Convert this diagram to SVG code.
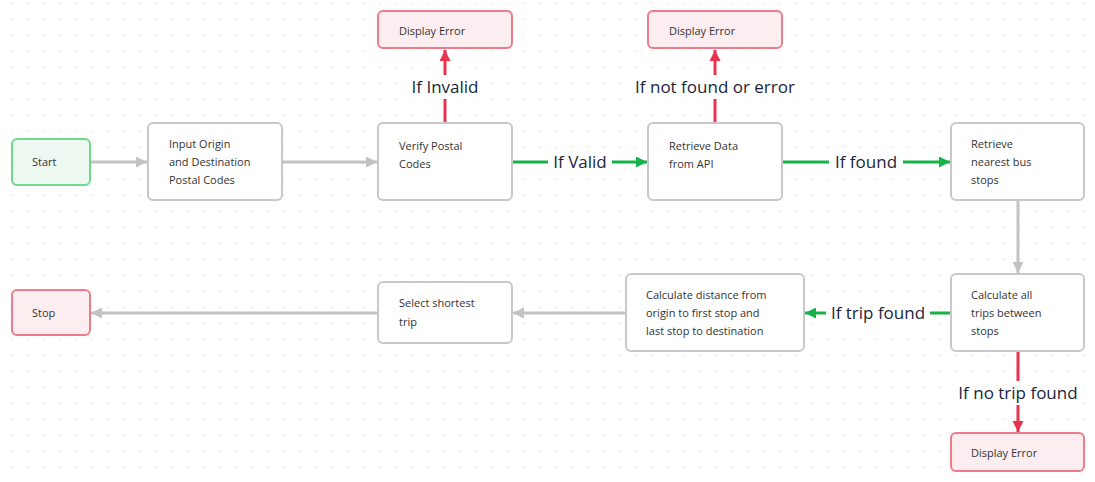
<svg xmlns="http://www.w3.org/2000/svg" width="1095" height="482" viewBox="0 0 1095 482">
<defs>
<pattern id="dots" x="10.5" y="2.5" width="16" height="16" patternUnits="userSpaceOnUse">
<rect x="0" y="0" width="1.3" height="1.3" fill="#d4d4d4"/>
</pattern>
<marker id="ag" viewBox="0 0 10 10" refX="10" refY="5" markerWidth="11" markerHeight="11" markerUnits="userSpaceOnUse" orient="auto"><path d="M0,0 L10,5 L0,10 Z" fill="#c2c2c2"/></marker>
<marker id="agr" viewBox="0 0 10 10" refX="10" refY="5" markerWidth="11" markerHeight="11" markerUnits="userSpaceOnUse" orient="auto"><path d="M0,0 L10,5 L0,10 Z" fill="#15b34a"/></marker>
<marker id="ar" viewBox="0 0 10 10" refX="10" refY="5" markerWidth="11" markerHeight="11" markerUnits="userSpaceOnUse" orient="auto"><path d="M0,0 L10,5 L0,10 Z" fill="#e8334f"/></marker>
<style>
.n rect{fill:#fff;stroke:#c8c8c8;stroke-width:2}
.g rect{fill:#edf8f1;stroke:#6fd88f;stroke-width:2}
.r rect{fill:#fcedf0;stroke:#ee7b8c;stroke-width:2}
.t{font-family:"Open Sans","Noto Sans","Liberation Sans",sans-serif;font-size:11px;fill:#333}
.e{fill:none;stroke-width:3}
.eg{stroke:#c2c2c2}
.egr{stroke:#15b34a}
.er{stroke:#e8334f}
.lb{font-family:"Open Sans","Noto Sans","Liberation Sans",sans-serif;font-size:17px;fill:#1a1f3a;text-anchor:middle}
.bg{fill:#fff}
</style>
</defs>
<rect width="1095" height="482" fill="#fff"/>
<rect width="1095" height="482" fill="url(#dots)"/>

<g id="connectors">
<line class="e eg" x1="90" y1="162" x2="147" y2="162" marker-end="url(#ag)"/>
<line class="e eg" x1="282" y1="162" x2="377" y2="162" marker-end="url(#ag)"/>
<line class="e egr" x1="512" y1="162" x2="647" y2="162" marker-end="url(#agr)"/>
<line class="e egr" x1="782" y1="162" x2="950" y2="162" marker-end="url(#agr)"/>
<line class="e er" x1="445" y1="123" x2="445" y2="50" marker-end="url(#ar)"/>
<line class="e er" x1="715" y1="123" x2="715" y2="50" marker-end="url(#ar)"/>
<line class="e eg" x1="1018" y1="201" x2="1018" y2="273" marker-end="url(#ag)"/>
<line class="e egr" x1="951" y1="313" x2="805" y2="313" marker-end="url(#agr)"/>
<line class="e er" x1="1018" y1="351" x2="1018" y2="432" marker-end="url(#ar)"/>
<line class="e eg" x1="626" y1="313" x2="513" y2="313" marker-end="url(#ag)"/>
<line class="e eg" x1="378" y1="313" x2="91" y2="313" marker-end="url(#ag)"/>
<rect class="bg" x="548" y="150" width="64" height="24"/>
<text class="lb" x="580" y="168">If Valid</text>
<rect class="bg" x="829" y="150" width="74" height="24"/>
<text class="lb" x="866" y="168">If found</text>
<rect class="bg" x="408" y="75" width="74" height="24"/>
<text class="lb" x="445" y="93">If Invalid</text>
<rect class="bg" x="633" y="75" width="164" height="24"/>
<text class="lb" x="715" y="93">If not found or error</text>
<rect class="bg" x="826" y="301" width="104" height="24"/>
<text class="lb" x="878" y="319">If trip found</text>
<rect class="bg" x="954" y="381" width="128" height="24"/>
<text class="lb" x="1018" y="399">If no trip found</text>
</g>

<g id="start" class="g"><rect x="12" y="139" width="78" height="46" rx="5"/><text class="t" x="32" y="166">Start</text></g>
<g id="input" class="n"><rect x="148" y="123" width="134" height="77" rx="5"/><text class="t" x="169" y="148">Input Origin</text><text class="t" x="169" y="166">and Destination</text><text class="t" x="169" y="184">Postal Codes</text></g>
<g id="verify" class="n"><rect x="378" y="123" width="134" height="77" rx="5"/><text class="t" x="399" y="150">Verify Postal</text><text class="t" x="399" y="168">Codes</text></g>
<g id="retrieve" class="n"><rect x="648" y="123" width="134" height="77" rx="5"/><text class="t" x="669" y="150">Retrieve Data</text><text class="t" x="669" y="168">from API</text></g>
<g id="busstops" class="n"><rect x="951" y="123" width="133" height="77" rx="5"/><text class="t" x="971" y="148">Retrieve</text><text class="t" x="971" y="166">nearest bus</text><text class="t" x="971" y="184">stops</text></g>
<g id="error1" class="r"><rect x="378" y="11" width="134" height="37" rx="5"/><text class="t" x="399" y="35">Display Error</text></g>
<g id="error2" class="r"><rect x="648" y="11" width="134" height="37" rx="5"/><text class="t" x="669" y="35">Display Error</text></g>
<g id="alltrips" class="n"><rect x="951" y="274" width="133" height="77" rx="5"/><text class="t" x="971" y="299">Calculate all</text><text class="t" x="971" y="317">trips between</text><text class="t" x="971" y="335">stops</text></g>
<g id="distance" class="n"><rect x="626" y="274" width="178" height="77" rx="5"/><text class="t" x="646" y="299">Calculate distance from</text><text class="t" x="646" y="317">origin to first stop and</text><text class="t" x="646" y="335">last stop to destination</text></g>
<g id="error3" class="r"><rect x="951" y="433" width="133" height="38" rx="5"/><text class="t" x="971" y="457">Display Error</text></g>
<g id="shortest" class="n"><rect x="378" y="282" width="134" height="61" rx="5"/><text class="t" x="399" y="307">Select shortest</text><text class="t" x="399" y="326">trip</text></g>
<g id="stop" class="r"><rect x="12" y="290" width="78" height="45" rx="5"/><text class="t" x="32" y="317">Stop</text></g>
</svg>
